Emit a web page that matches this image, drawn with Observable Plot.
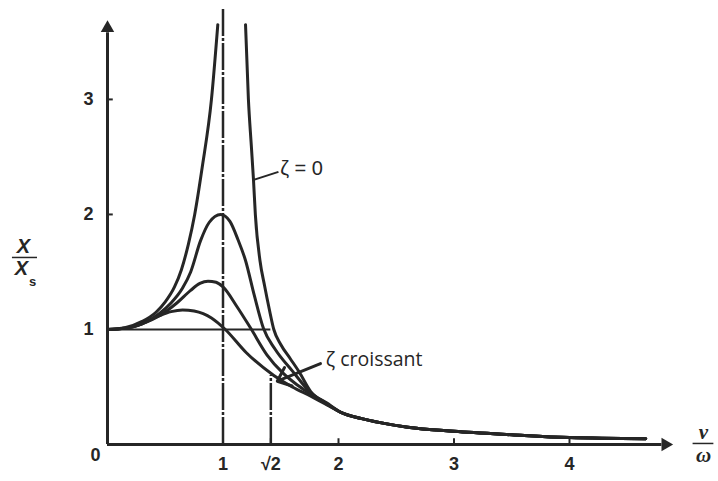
<!DOCTYPE html>
<html>
<head>
<meta charset="utf-8">
<script src="https://cdn.jsdelivr.net/npm/d3@7"></script>
<script src="https://cdn.jsdelivr.net/npm/@observablehq/plot@0.6"></script>
<style>
  html, body { margin: 0; padding: 0; background: #fff; }
  #chart svg { display: block; }
</style>
</head>
<body>
<div id="chart"></div>
<script>
// ---- data (ν/ω, X/Xs) ----
const zeta0Left = [[0,1],[0.15,1.015],[0.3,1.07],[0.42,1.15],[0.5,1.24],[0.58,1.37],[0.64,1.52],[0.70,1.74],[0.755,2.0],[0.82,2.41],[0.9,3.0],[0.955,3.65]];
const zeta0Right = [[1.195,3.65],[1.22,3.0],[1.245,2.6],[1.264,2.3],[1.28,2.0],[1.32,1.6],[1.36,1.38],[1.40,1.18],[1.44,1.0],[1.50,0.87],[1.58,0.75],[1.66,0.63],[1.76,0.46],[1.9,0.36]];
const zetaPeak2 = [[0,1],[0.15,1.01],[0.3,1.05],[0.45,1.14],[0.55,1.23],[0.65,1.36],[0.72,1.5],[0.805,1.77],[0.88,1.93],[0.98,2.0],[1.06,1.94],[1.13,1.78],[1.195,1.6],[1.27,1.3],[1.35,1.01],[1.45,0.83],[1.6,0.64],[1.76,0.45],[1.9,0.355]];
const zetaPeak14 = [[0,1],[0.15,1.01],[0.3,1.05],[0.45,1.12],[0.6,1.23],[0.72,1.34],[0.8,1.40],[0.87,1.42],[0.94,1.41],[1.0,1.37],[1.12,1.2],[1.24,1.01],[1.38,0.78],[1.52,0.62],[1.64,0.52],[1.76,0.44],[1.9,0.35]];
const zetaPeak115 = [[0,1],[0.15,1.01],[0.3,1.05],[0.45,1.12],[0.55,1.155],[0.65,1.17],[0.75,1.16],[0.9,1.1],[1.02,1.0],[1.2,0.8],[1.44,0.6],[1.6,0.5],[1.76,0.42],[1.9,0.345]];
const sharedTail = [[2.02,0.28],[2.2,0.225],[2.36,0.19],[2.6,0.15],[3.0,0.115],[3.5,0.085],[4.0,0.06],[4.66,0.05]];

const xTicks = [1, Math.SQRT2, 2, 3, 4];
const xTickLabels = ["1", "√2", "2", "3", "4"];
const yTicks = [1, 2, 3];
const yTickLabels = ["1", "2", "3"];
const markerX = [1, Math.SQRT2];      // dash-dot verticals
const markerTop = [3.80, 0.60];
const unitLevel = [1];                // horizontal line X/Xs = 1

// ---- build rows ----
const series = [
  ["z0L", zeta0Left, false],
  ["z0R", zeta0Right, true],
  ["p2", zetaPeak2, true],
  ["p14", zetaPeak14, true],
  ["p115", zetaPeak115, true]
];
const rows = [];
for (const [name, pts, tail] of series) {
  for (const [x, y] of pts) rows.push({s: name, x, y});
  if (tail) for (const [x, y] of sharedTail) rows.push({s: name, x, y});
}

const ink = "#262626";
const sans = "'Liberation Sans', Arial, sans-serif";

const plot = Plot.plot({
  width: 718,
  height: 481,
  marginLeft: 107,
  marginRight: 33.5,
  marginTop: 0,
  marginBottom: 37,
  x: {domain: [0, 5]},
  y: {domain: [0, 3.86]},
  style: {fontFamily: sans, color: ink, background: "#fff", overflow: "visible"},
  marks: [
    // reference lines
    Plot.ruleX(markerX, {x: d => d, y1: 0, y2: (d, i) => markerTop[i], stroke: ink, strokeWidth: 2.5, strokeDasharray: "27,2,3,2"}),
    Plot.ruleY(unitLevel, {y: d => d, x1: 0, x2: Math.SQRT2, stroke: ink, strokeWidth: 2}),
    // curves
    Plot.line(rows, {x: "x", y: "y", z: "s", stroke: ink, strokeWidth: 3, curve: "monotone-x"}),
    // axes lines with arrows
    Plot.ruleY([0], {x1: 0, x2: 4.80, stroke: ink, strokeWidth: 3}),
    Plot.ruleX([0], {y1: 0, y2: 3.58, stroke: ink, strokeWidth: 3}),
    Plot.dot([{x: 4.83, y: 0}], {x: "x", y: "y", symbol: "triangle", rotate: 90, r: 5, fill: ink, stroke: null}),
    Plot.dot([{x: 0, y: 3.62}], {x: "x", y: "y", symbol: "triangle", rotate: 0, r: 5, fill: ink, stroke: null}),
    // small ticks
    Plot.ruleX(xTicks, {x: d => d, y1: 0, y2: 0.05, stroke: ink, strokeWidth: 2}),
    Plot.ruleY(yTicks, {y: d => d, x1: 0, x2: 0.05, stroke: ink, strokeWidth: 2}),
    // axis labels
    Plot.axisX(xTicks, {tickSize: 0, tickPadding: 13, tickFormat: d => xTickLabels[xTicks.indexOf(d)], fontSize: 18, fontWeight: "bold", label: null}),
    Plot.axisY(yTicks, {tickSize: 0, tickPadding: 14, tickFormat: d => yTickLabels[yTicks.indexOf(d)], fontSize: 18, fontWeight: "bold", label: null}),
    Plot.text([{x: 0, y: 0}], {x: "x", y: "y", text: () => "0", dx: -12, dy: 11, fontSize: 18, fontWeight: "bold"}),
    // ζ = 0 annotation
    Plot.link([{x1: 1.264, y1: 2.30, x2: 1.48, y2: 2.37}], {x1: "x1", y1: "y1", x2: "x2", y2: "y2", stroke: ink, strokeWidth: 2}),
    Plot.text([{x: 1.495, y: 2.40}], {x: "x", y: "y", text: () => "ζ = 0", textAnchor: "start", fontSize: 20, fill: ink}),
    // ζ croissant annotation
    Plot.arrow([{x1: 1.844, y1: 0.704, x2: 1.47, y2: 0.55}], {x1: "x1", y1: "y1", x2: "x2", y2: "y2", stroke: ink, strokeWidth: 3, headLength: 11, headAngle: 80}),
    Plot.text([{x: 1.89, y: 0.74}], {x: "x", y: "y", text: () => "ζ croissant", textAnchor: "start", fontSize: 19.5, fontFamily: "'Open Sans', sans-serif", fill: ink}),
    // y label X / Xs
    Plot.text([{x: -0.727, y: 1.72}], {x: "x", y: "y", text: () => "X", fontSize: 20, fontStyle: "italic", fontWeight: "bold", fill: ink}),
    Plot.ruleY([1.626], {y: d => d, x1: -0.823, x2: -0.606, stroke: ink, strokeWidth: 1.5}),
    Plot.text([{x: -0.745, y: 1.53}], {x: "x", y: "y", text: () => "X", fontSize: 20, fontStyle: "italic", fontWeight: "bold", fill: ink}),
    Plot.text([{x: -0.648, y: 1.41}], {x: "x", y: "y", text: () => "s", fontSize: 13, fontWeight: "bold", fill: ink}),
    // x label ν / ω
    Plot.text([{x: 5.16, y: 0.11}], {x: "x", y: "y", text: () => "ν", fontSize: 21, fontStyle: "italic", fontWeight: "bold", fontFamily: "'Liberation Serif', serif", fill: ink}),
    Plot.ruleY([0.009], {y: d => d, x1: 5.07, x2: 5.25, stroke: ink, strokeWidth: 1.5}),
    Plot.text([{x: 5.16, y: -0.09}], {x: "x", y: "y", text: () => "ω", fontSize: 21, fontStyle: "italic", fontWeight: "bold", fontFamily: "'Liberation Serif', serif", fill: ink})
  ]
});
document.getElementById("chart").appendChild(plot);
</script>
</body>
</html>
